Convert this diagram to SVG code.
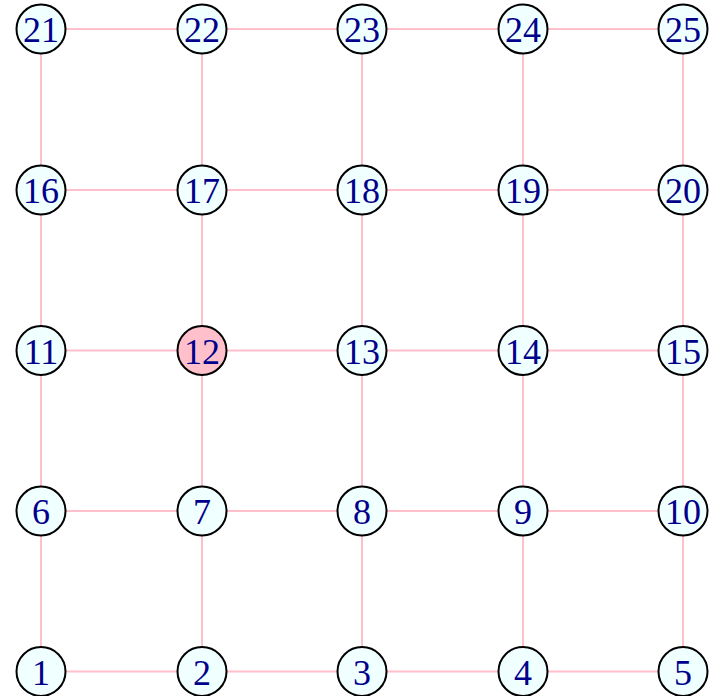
<svg xmlns="http://www.w3.org/2000/svg" width="712" height="696" viewBox="0 0 712 696">
<style>
.e{stroke:#FFC0CB;stroke-width:2;fill:none}
.n circle{fill:#F0FFFF;stroke:#000;stroke-width:2}
.n.h circle{fill:#FFC0CB}
.n text{font-family:"Liberation Serif",serif;font-size:36px;fill:#00008B;text-anchor:middle}
</style>
<rect width="712" height="696" fill="#fff"/>
<g id="edges" class="e">
<path d="M41 29H683M41 190H683M41 350.5H683M41 511H683M41 671.5H683"/>
<path d="M41 29V671.5M202 29V671.5M362 29V671.5M523 29V671.5M683 29V671.5"/>
</g>
<g id="n21" class="n"><circle cx="41" cy="29" r="24.5"/><text x="41" y="42">21</text></g>
<g id="n22" class="n"><circle cx="202" cy="29" r="24.5"/><text x="202" y="42">22</text></g>
<g id="n23" class="n"><circle cx="362" cy="29" r="24.5"/><text x="362" y="42">23</text></g>
<g id="n24" class="n"><circle cx="523" cy="29" r="24.5"/><text x="523" y="42">24</text></g>
<g id="n25" class="n"><circle cx="683" cy="29" r="24.5"/><text x="683" y="42">25</text></g>
<g id="n16" class="n"><circle cx="41" cy="190" r="24.5"/><text x="41" y="203">16</text></g>
<g id="n17" class="n"><circle cx="202" cy="190" r="24.5"/><text x="202" y="203">17</text></g>
<g id="n18" class="n"><circle cx="362" cy="190" r="24.5"/><text x="362" y="203">18</text></g>
<g id="n19" class="n"><circle cx="523" cy="190" r="24.5"/><text x="523" y="203">19</text></g>
<g id="n20" class="n"><circle cx="683" cy="190" r="24.5"/><text x="683" y="203">20</text></g>
<g id="n11" class="n"><circle cx="41" cy="350.5" r="24.5"/><text x="41" y="363.5">11</text></g>
<g id="n12" class="n h"><circle cx="202" cy="350.5" r="24.5"/><text x="202" y="363.5">12</text></g>
<g id="n13" class="n"><circle cx="362" cy="350.5" r="24.5"/><text x="362" y="363.5">13</text></g>
<g id="n14" class="n"><circle cx="523" cy="350.5" r="24.5"/><text x="523" y="363.5">14</text></g>
<g id="n15" class="n"><circle cx="683" cy="350.5" r="24.5"/><text x="683" y="363.5">15</text></g>
<g id="n6" class="n"><circle cx="41" cy="511" r="24.5"/><text x="41" y="524">6</text></g>
<g id="n7" class="n"><circle cx="202" cy="511" r="24.5"/><text x="202" y="524">7</text></g>
<g id="n8" class="n"><circle cx="362" cy="511" r="24.5"/><text x="362" y="524">8</text></g>
<g id="n9" class="n"><circle cx="523" cy="511" r="24.5"/><text x="523" y="524">9</text></g>
<g id="n10" class="n"><circle cx="683" cy="511" r="24.5"/><text x="683" y="524">10</text></g>
<g id="n1" class="n"><circle cx="41" cy="671.5" r="24.5"/><text x="41" y="684.5">1</text></g>
<g id="n2" class="n"><circle cx="202" cy="671.5" r="24.5"/><text x="202" y="684.5">2</text></g>
<g id="n3" class="n"><circle cx="362" cy="671.5" r="24.5"/><text x="362" y="684.5">3</text></g>
<g id="n4" class="n"><circle cx="523" cy="671.5" r="24.5"/><text x="523" y="684.5">4</text></g>
<g id="n5" class="n"><circle cx="683" cy="671.5" r="24.5"/><text x="683" y="684.5">5</text></g>
</svg>
